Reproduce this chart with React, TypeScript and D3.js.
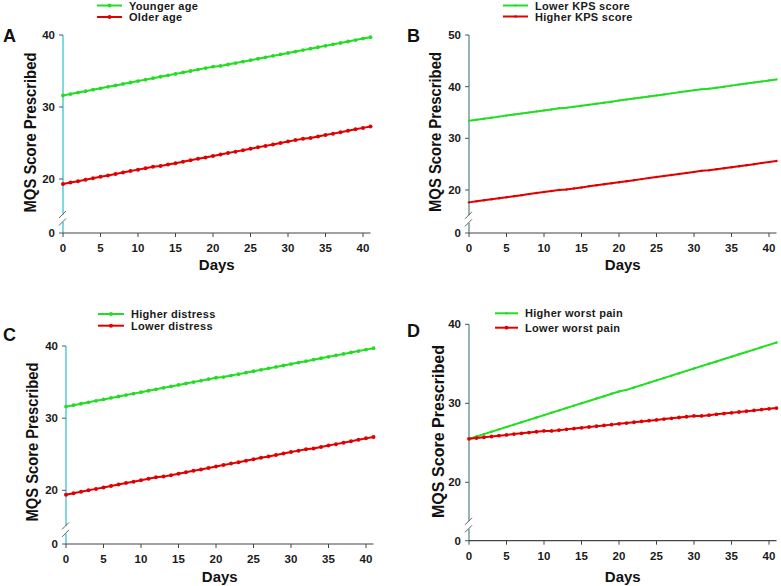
import React from "react";
import * as d3 from "d3";

// ---------- DATA ----------
const DAYS = [0,1,2,3,4,5,6,7,8,9,10,11,12,13,14,15,16,17,18,19,20,21,22,23,24,25,26,27,28,29,30,31,32,33,34,35,36,37,38,39,40,41];
const X_TICKS = [0, 5, 10, 15, 20, 25, 30, 35, 40];

const A_LABELS = ["Younger age", "Older age"];
const A_YOUNGER = [31.6,31.8,32.0,32.2,32.4,32.6,32.8,33.0,33.2,33.4,33.6,33.8,34.0,34.2,34.4,34.6,34.8,35.0,35.2,35.4,35.6,35.7,35.9,36.1,36.3,36.5,36.7,36.9,37.1,37.3,37.5,37.7,37.9,38.1,38.3,38.5,38.7,38.9,39.1,39.3,39.5,39.7];
const A_OLDER = [19.3,19.5,19.7,19.9,20.1,20.3,20.5,20.7,20.9,21.1,21.3,21.5,21.7,21.8,22.0,22.2,22.4,22.6,22.8,23.0,23.2,23.4,23.6,23.8,24.0,24.2,24.4,24.6,24.8,25.0,25.2,25.4,25.6,25.7,25.9,26.1,26.3,26.5,26.7,26.9,27.1,27.3];
const A_Y_TICKS = [20, 30, 40];

const B_LABELS = ["Lower KPS score", "Higher KPS score"];
const B_LOWER = [33.4,33.6,33.8,34.0,34.2,34.4,34.6,34.8,35.0,35.2,35.4,35.6,35.8,35.9,36.1,36.3,36.5,36.7,36.9,37.1,37.3,37.5,37.7,37.9,38.1,38.3,38.5,38.7,38.9,39.1,39.3,39.5,39.6,39.8,40.0,40.2,40.4,40.6,40.8,41.0,41.2,41.4];
const B_HIGHER = [17.6,17.8,18.0,18.2,18.4,18.6,18.8,19.0,19.2,19.4,19.6,19.8,20.0,20.1,20.3,20.5,20.7,20.9,21.1,21.3,21.5,21.7,21.9,22.1,22.3,22.5,22.7,22.9,23.1,23.3,23.5,23.7,23.8,24.0,24.2,24.4,24.6,24.8,25.0,25.2,25.4,25.6];
const B_Y_TICKS = [20, 30, 40, 50];

const C_LABELS = ["Higher distress", "Lower distress"];
const C_HIGHER = [31.6,31.8,32.0,32.2,32.4,32.6,32.8,33.0,33.2,33.4,33.6,33.8,34.0,34.2,34.4,34.6,34.8,35.0,35.2,35.4,35.6,35.7,35.9,36.1,36.3,36.5,36.7,36.9,37.1,37.3,37.5,37.7,37.9,38.1,38.3,38.5,38.7,38.9,39.1,39.3,39.5,39.7];
const C_LOWER = [19.4,19.6,19.8,20.0,20.2,20.4,20.6,20.8,21.0,21.2,21.4,21.6,21.8,21.9,22.1,22.3,22.5,22.7,22.9,23.1,23.3,23.5,23.7,23.9,24.1,24.3,24.5,24.7,24.9,25.1,25.3,25.5,25.7,25.8,26.0,26.2,26.4,26.6,26.8,27.0,27.2,27.4];
const C_Y_TICKS = [20, 30, 40];

const D_LABELS = ["Higher worst pain", "Lower worst pain"];
const D_HIGHER = [25.5,25.8,26.1,26.4,26.7,27.0,27.3,27.6,27.9,28.2,28.5,28.8,29.1,29.4,29.7,30.0,30.3,30.6,30.9,31.2,31.5,31.7,32.0,32.3,32.6,32.9,33.2,33.5,33.8,34.1,34.4,34.7,35.0,35.3,35.6,35.9,36.2,36.5,36.8,37.1,37.4,37.7];
const D_LOWER = [25.5,25.6,25.7,25.8,25.9,26.0,26.1,26.2,26.3,26.4,26.5,26.5,26.6,26.7,26.8,26.9,27.0,27.1,27.2,27.3,27.4,27.5,27.6,27.7,27.8,27.9,28.0,28.1,28.2,28.3,28.4,28.4,28.5,28.6,28.7,28.8,28.9,29.0,29.1,29.2,29.3,29.4];
const D_Y_TICKS = [20, 30, 40];

const Y_TITLE = "MQS Score Prescribed";
const X_TITLE = "Days";

// ---------- STYLE ----------
const GREEN = "#22dd22";
const RED = "#e00000";
const FONT = "'Liberation Sans', Arial, Helvetica, sans-serif";
const TEXT = "#1a1a1a";

type PanelCfg = {
  letter: string;
  letterX: number; letterY: number;
  x0: number; zeroY: number; yTop: number; yMax: number; yLowPx: number;
  yTicks: number[];
  labels: string[];
  green: number[]; red: number[];
  axisColor: string;
  gR: number; rR: number;
  legX: number; legY: number; legGap: number; legLen: number;
  titleX: number; titleCY: number; titleLen: number;
  daysY: number;
};

const PANELS: PanelCfg[] = [
  { letter: "A", letterX: 3, letterY: 42, x0: 63, zeroY: 233, yTop: 35, yMax: 40, yLowPx: 215,
    yTicks: A_Y_TICKS, labels: A_LABELS, green: A_YOUNGER, red: A_OLDER, axisColor: "#39c3d3",
    gR: 1.9, rR: 2.0, legX: 97, legY: 5.5, legGap: 11.5, legLen: 25, titleX: 36, titleCY: 132.5, titleLen: 160, daysY: 270 },
  { letter: "B", letterX: 407, letterY: 42, x0: 469, zeroY: 233, yTop: 35, yMax: 50, yLowPx: 215.8,
    yTicks: B_Y_TICKS, labels: B_LABELS, green: B_LOWER, red: B_HIGHER, axisColor: "#5b8c92",
    gR: 1.1, rR: 1.2, legX: 503, legY: 5.5, legGap: 11, legLen: 25, titleX: 441, titleCY: 132, titleLen: 160, daysY: 270 },
  { letter: "C", letterX: 3, letterY: 341, x0: 66, zeroY: 544, yTop: 346, yMax: 40, yLowPx: 526.4,
    yTicks: C_Y_TICKS, labels: C_LABELS, green: C_HIGHER, red: C_LOWER, axisColor: "#39c3d3",
    gR: 1.9, rR: 2.0, legX: 98, legY: 314, legGap: 11.7, legLen: 26, titleX: 38, titleCY: 442, titleLen: 159, daysY: 582 },
  { letter: "D", letterX: 407, letterY: 337, x0: 469, zeroY: 540.7, yTop: 324.3, yMax: 40, yLowPx: 521.8,
    yTicks: D_Y_TICKS, labels: D_LABELS, green: D_HIGHER, red: D_LOWER, axisColor: "#5b8c92",
    gR: 1.2, rR: 1.9, legX: 495, legY: 313.3, legGap: 14.4, legLen: 23, titleX: 444, titleCY: 431.5, titleLen: 173, daysY: 582 },
];

const X_STEP = 7.5;

function Panel({ p }: { p: PanelCfg }) {
  const x = d3.scaleLinear().domain([0, 41]).range([p.x0, p.x0 + 41 * X_STEP]);
  const y = d3.scaleLinear().domain([15, p.yMax]).range([p.yLowPx, p.yTop]);
  const line = d3.line<number>().x((_, i) => x(DAYS[i])).y((v) => y(v));
  const s1 = p.yLowPx - 0.5;
  const s2 = p.yLowPx + 7;
  const xEnd = x(41);
  const series = [
    { vals: p.green, color: GREEN, r: p.gR },
    { vals: p.red, color: RED, r: p.rR },
  ];
  return (
    <g>
      <text x={p.letterX} y={p.letterY} fontSize={18} fontWeight="bold" fill="#111" fontFamily={FONT}>{p.letter}</text>
      {series.map((s, i) => (
        <g key={i}>
          <line x1={p.legX} x2={p.legX + p.legLen} y1={p.legY + i * p.legGap} y2={p.legY + i * p.legGap} stroke={s.color} strokeWidth={2} />
          <circle cx={p.legX + p.legLen / 2} cy={p.legY + i * p.legGap} r={s.r} fill={s.color} />
          <text x={p.legX + p.legLen + 7} y={p.legY + i * p.legGap + 4} fontSize={11} fontWeight="bold" fill={TEXT} fontFamily={FONT} letterSpacing={0.3}>{p.labels[i]}</text>
        </g>
      ))}
      <line x1={p.x0} x2={p.x0} y1={p.yTop} y2={s1} stroke={p.axisColor} strokeWidth={1.3} />
      <line x1={p.x0} x2={p.x0} y1={s2} y2={p.zeroY} stroke={p.axisColor} strokeWidth={1.3} />
      <line x1={p.x0 - 4} x2={p.x0 + 3} y1={s1 + 3.5} y2={s1 - 3.5} stroke="#666" strokeWidth={1} />
      <line x1={p.x0 - 4} x2={p.x0 + 3} y1={s2 + 3.5} y2={s2 - 3.5} stroke="#666" strokeWidth={1} />
      {p.yTicks.map((t) => (
        <g key={t}>
          <line x1={p.x0 - 4} x2={p.x0} y1={y(t)} y2={y(t)} stroke="#555" strokeWidth={1} />
          <text x={p.x0 - 8} y={y(t)} dy="0.35em" textAnchor="end" fontSize={11.5} fontWeight="bold" fill={TEXT} fontFamily={FONT}>{t}</text>
        </g>
      ))}
      <line x1={p.x0 - 4} x2={p.x0} y1={p.zeroY} y2={p.zeroY} stroke="#555" strokeWidth={1} />
      <text x={p.x0 - 8} y={p.zeroY} dy="0.35em" textAnchor="end" fontSize={11.5} fontWeight="bold" fill={TEXT} fontFamily={FONT}>0</text>
      <line x1={p.x0} x2={xEnd} y1={p.zeroY} y2={p.zeroY} stroke="#444" strokeWidth={1.2} />
      {X_TICKS.map((t) => (
        <g key={t}>
          <line x1={x(t)} x2={x(t)} y1={p.zeroY} y2={p.zeroY + 4} stroke="#444" strokeWidth={1} />
          <text x={x(t)} y={p.zeroY + 19} textAnchor="middle" fontSize={11.5} fontWeight="bold" fill={TEXT} fontFamily={FONT}>{t}</text>
        </g>
      ))}
      <text x={(p.x0 + xEnd) / 2} y={p.daysY} textAnchor="middle" fontSize={15} fontWeight="bold" fill="#111" fontFamily={FONT}>{X_TITLE}</text>
      <text transform={`translate(${p.titleX},${p.titleCY}) rotate(-90)`} textAnchor="middle" fontSize={16.5} fontWeight="bold" fill="#111" fontFamily={FONT}
        textLength={p.titleLen} lengthAdjust="spacingAndGlyphs">{Y_TITLE}</text>
      {series.map((s, i) => (
        <g key={i}>
          <path d={line(s.vals) || ""} fill="none" stroke={s.color} strokeWidth={2} />
          {s.vals.map((v, j) => (
            <circle key={j} cx={x(DAYS[j])} cy={y(v)} r={s.r} fill={s.color} />
          ))}
        </g>
      ))}
    </g>
  );
}

export default function App() {
  return (
    <svg width={781} height={586} style={{ position: "absolute", left: 0, top: 0, background: "#fff" }}>
      <rect width={781} height={586} fill="#fff" />
      {PANELS.map((p) => <Panel key={p.letter} p={p} />)}
    </svg>
  );
}
